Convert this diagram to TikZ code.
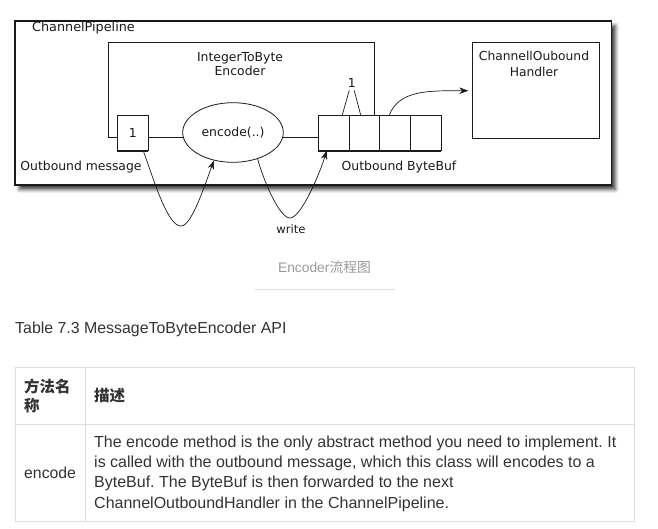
\documentclass[tikz,border=0pt]{standalone}
\usepackage{fontspec}
\setmainfont{Liberation Sans}
\newfontfamily\cjk{Noto Sans CJK SC}
\newfontfamily\dia{DejaVu Sans}
\usetikzlibrary{shapes.geometric,shadows.blur,arrows.meta}
\definecolor{tbl}{HTML}{DDDDDD}
\definecolor{txt}{HTML}{333333}
\definecolor{cap}{HTML}{999999}
\definecolor{ink}{HTML}{1A1A1A}
\frenchspacing
\begin{document}
\begin{tikzpicture}[x=1pt,y=-1pt,
  box/.style={draw=ink, line width=0.8pt, inner sep=0pt, outer sep=0pt, anchor=north west},
  lbl/.style={font=\dia\fontsize{12.4}{14.5}\selectfont, text=ink, inner sep=0pt, align=center},
  conn/.style={draw=ink, line width=0.7pt},
  tip/.style={-{Stealth[length=9pt,width=6.5pt]}},
  tbltext/.style={font=\fontsize{16}{20.3}\selectfont, text=txt, inner sep=0pt, align=left, anchor=west}]
\useasboundingbox (0,0) rectangle (658,529);
% outer pipeline box
\node[box, line width=1.5pt, fill=white, minimum width=596.7pt, minimum height=164pt,
  blur shadow={shadow xshift=4pt, shadow yshift=-4.5pt, shadow blur radius=3.5pt, shadow opacity=75}] (pipe) at (15,21) {};
\node[lbl, font=\dia\fontsize{12.8}{14.5}\selectfont] (pipelbl) at (83.5,28.3) {ChannelPipeline};
% encoder label
\node[lbl] (enclbl) at (240,64) {IntegerToByte\\Encoder};
% message box
\node[box, minimum width=31pt, minimum height=35.7pt] (msg) at (117.3,115) {};
\node[lbl] at (msg.center) {1};
\draw[ink, line width=1.8pt] (msg.south west) -- (msg.south east);
% encode ellipse
\node[draw=ink, line width=0.8pt, ellipse, minimum width=100.6pt, minimum height=59.6pt, inner sep=0pt] (ell) at (233,132.5) {};
\node[lbl] at (ell.center) {encode(..)};
% buffer cells
\node[box, minimum width=30.7pt, minimum height=35.7pt] (c1) at (318.3,115) {};
\node[box, minimum width=30.7pt, minimum height=35.7pt] (c2) at (c1.north east) {};
\node[box, minimum width=30.7pt, minimum height=35.7pt] (c3) at (c2.north east) {};
\node[box, minimum width=30.7pt, minimum height=35.7pt] (c4) at (c3.north east) {};
\draw[ink, line width=1.8pt] (c1.south west) -- (c4.south east);
% handler box
\node[box, minimum width=127pt, minimum height=95.7pt] (handler) at (472.3,42.3) {};
\node[lbl, font=\dia\fontsize{12.3}{15.5}\selectfont] (handlerlbl) at (534,64) {ChannellOubound\\Handler};
% encoder frame
\coordinate (encL) at (108.3,42.3);
\coordinate (encR) at (374.3,42.3);
\draw[conn] (msg.west |- ell.186) -| (encL) -- (encR) -- (encR |- c1.north);
\draw[conn] (msg.east |- ell.186) -- (ell.186);
\draw[conn] (ell.354) -- (c1.west |- ell.354);
% labels
\node[lbl] (msglbl) at (81,167) {Outbound message};
\node[lbl] (buflbl) at (399,167) {Outbound ByteBuf};
\node[lbl] (one) at (351.7,83.3) {1};
\node[lbl, font=\dia\fontsize{11.6}{14}\selectfont] (writelbl) at (291,229.3) {write};
\draw[conn] ([xshift=-2.5pt,yshift=-2.4pt]one.south) -- ([xshift=24pt]c1.north west);
\draw[conn] ([xshift=2.5pt,yshift=-2.4pt]one.south) -- ([xshift=11.7pt]c2.north west);
% curves
\coordinate (dip1) at (181,226);
\coordinate (dip2) at (290,218);
\draw[conn, tip] ([xshift=-5pt]msg.south east) .. controls +(12,34) and +(-13,0) .. (dip1)
  .. controls +(11,0) and +(-9,23) .. (ell.236);
\draw[conn, tip] (ell.313) .. controls +(7,25) and +(-10,0) .. (dip2)
  .. controls +(10,0) and +(-9,29) .. ([xshift=8.4pt]c1.south west);
\draw[conn, tip] ([xshift=9.6pt]c3.north west) .. controls +(10,-25) and +(-40,0) .. ([shift={(-4pt,-48.4pt)}]handler.north west);
% caption
\node[inner sep=0pt, text=cap, font=\fontsize{13.8}{15}\selectfont] (caption) at (324.5,267) {Encoder{\cjk 流程图}};
\coordinate (capL) at (255,289);
\coordinate (capR) at (395,289);
\draw[tbl, line width=1pt] (capL) -- (capR);
% table title
\node[tbltext, font=\fontsize{15.9}{18}\selectfont] (title) at (15,329) {Table 7.3 MessageToByteEncoder API};
% table
\coordinate (tNW) at (15,367.3);
\coordinate (tSE) at (634.7,521.7);
\coordinate (colX) at (85.7,367.3);
\coordinate (rowY) at (15,424);
\draw[tbl, line width=1pt] (tNW) rectangle (tSE);
\draw[tbl, line width=1pt] (colX) -- (colX |- tSE);
\draw[tbl, line width=1pt] (rowY) -- (rowY -| tSE);
\node[tbltext, font=\fontsize{15.5}{19}\selectfont\cjk\bfseries] (h1) at (24,395.5) {方法名\\称};
\node[tbltext, font=\fontsize{15.5}{19}\selectfont\cjk\bfseries] (h2) at (94,395.5) {描述};
\node[tbltext, font=\fontsize{15.8}{20}\selectfont] (b1) at (24,472.7) {encode};
\node[tbltext] (b2) at (94,473.5) {The encode method is the only abstract method you need to implement. It\\is called with the outbound message, which this class will encodes to a\\ByteBuf. The ByteBuf is then forwarded to the next\\ChannelOutboundHandler in the ChannelPipeline.};
\end{tikzpicture}
\end{document}
